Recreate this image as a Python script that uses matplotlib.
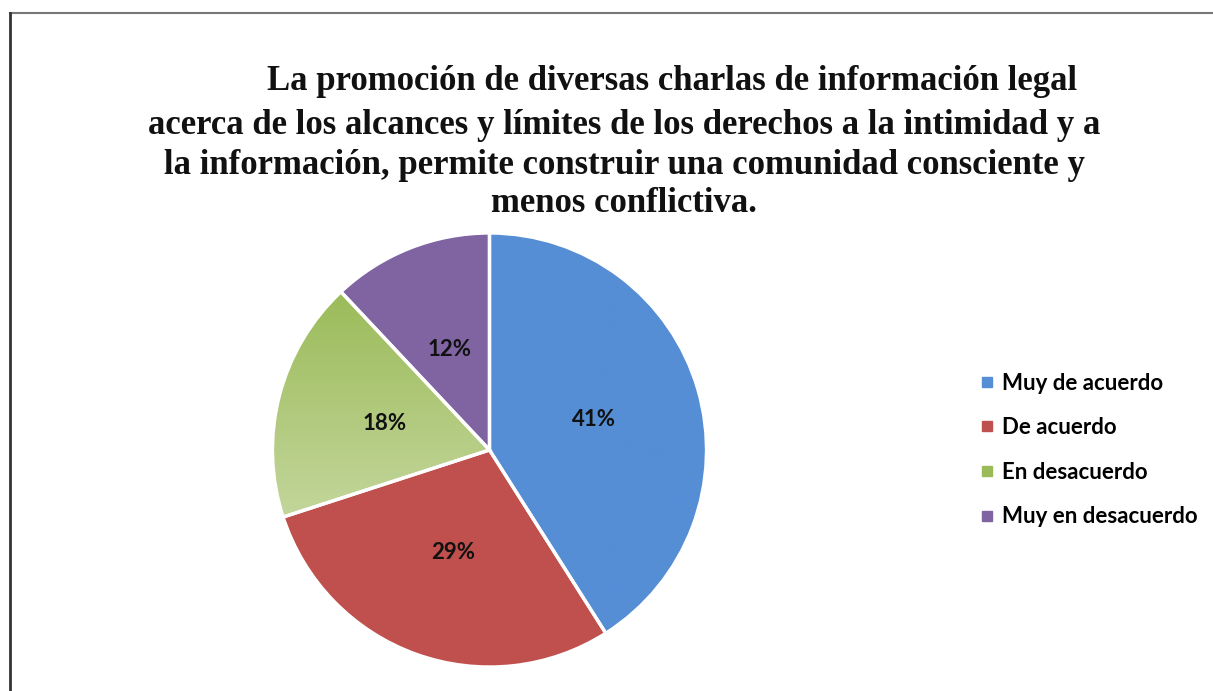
import numpy as np
import matplotlib
matplotlib.use('Agg')
import matplotlib.pyplot as plt
from matplotlib.lines import Line2D
from matplotlib.colors import LinearSegmentedColormap

# data
categorias = ['Muy de acuerdo', 'De acuerdo', 'En desacuerdo', 'Muy en desacuerdo']
porcentajes = [41, 29, 18, 12]
color_arriba = ['#558ED5', '#C0504D', '#9BBB59', '#8064A2']
color_abajo = ['#558ED5', '#C0504D', '#C3D69B', '#8064A2']

titulo_1 = 'La promoción de diversas charlas de información legal'
titulo_2 = ('acerca de los alcances y límites de los derechos a la intimidad y a\n'
            'la información, permite construir una comunidad consciente y\n'
            'menos conflictiva.')

W, H = 1213, 691
fig = plt.figure(figsize=(W / 100, H / 100), dpi=100)
fig.patch.set_facecolor('white')

# pie axes: centre (489, 450), radius ~217 px
cx, cy, r = 489.5, 450, 217
ax = fig.add_axes([(cx - r) / W, (H - cy - r) / H, 2 * r / W, 2 * r / H])

wedges, textos, pcts = ax.pie(
    porcentajes, startangle=90, counterclock=False, radius=1,
    autopct='%1.0f%%', pctdistance=0.5,
    wedgeprops=dict(facecolor='none', edgecolor='white', linewidth=2.4, zorder=2),
    textprops=dict(fontsize=16, fontweight='bold', color='#111111', family='Lato'),
)
for t in pcts:
    t.set_zorder(4)

# vertical gradient fill clipped to each wedge (darker at top)
for w, c_top, c_bot in zip(wedges, color_arriba, color_abajo):
    bb = w.get_path().get_extents()
    cmap = LinearSegmentedColormap.from_list('g', [c_bot, c_top])
    grad = np.linspace(0, 1, 256).reshape(-1, 1)
    im = ax.imshow(grad, cmap=cmap, aspect='auto', origin='lower',
                   extent=[bb.x0, bb.x1, bb.y0, bb.y1], zorder=1)
    im.set_clip_path(w)

ax.set_xlim(-1, 1)
ax.set_ylim(-1, 1)
ax.set_aspect('equal')
ax.axis('off')

# title
fig.text(672 / W, 1 - 82 / H, titulo_1, ha='center', va='center',
         fontsize=25, fontweight='bold', family='Liberation Serif', color='#111111')
fig.text(624 / W, 1 - 165 / H, titulo_2, ha='center', va='center',
         fontsize=25, fontweight='bold', family='Liberation Serif', color='#111111',
         linespacing=1.24)

# legend
handles = [Line2D([0], [0], marker='s', linestyle='none', markersize=7,
                  markerfacecolor=c, markeredgecolor=c) for c in color_arriba]
fig.legend(handles, categorias, loc='center left',
           bbox_to_anchor=(959 / W, 1 - 450 / H), frameon=False,
           prop=dict(family='Lato', weight='bold', size=16),
           handlelength=0.7, handletextpad=0.35, labelspacing=1.06)

# chart frame (top and left edges)
fig.add_artist(Line2D([10 / W, 1], [1 - 13 / H, 1 - 13 / H],
                      transform=fig.transFigure, color='#777777', linewidth=1.5))
fig.add_artist(Line2D([10 / W, 10 / W], [0, 1 - 13 / H],
                      transform=fig.transFigure, color='#333333', linewidth=2))

fig.savefig('out.png', dpi=100, facecolor='white')
